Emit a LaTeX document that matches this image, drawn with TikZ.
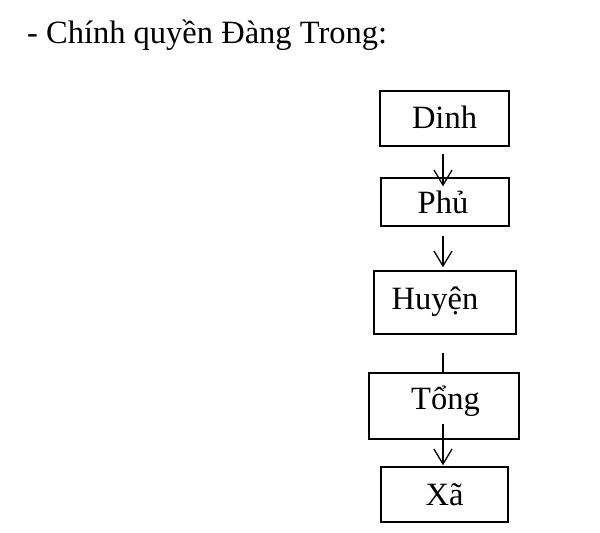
\documentclass[tikz,border=0pt]{standalone}
\usepackage{fontspec}
\setmainfont{Liberation Serif}
\usetikzlibrary{arrows.meta}
\tikzset{
  box/.style={draw, line width=1.4pt, inner sep=0pt},
  lbl/.style={inner sep=0pt, font=\fontsize{32.5}{39}\selectfont, text height=21.5pt, text depth=0pt},
  arr/.style={line width=1.3pt, -{Straight Barb[length=15pt,width=18pt,line width=1.3pt]}},
  plain/.style={line width=1.3pt}
}
\begin{document}
\begin{tikzpicture}[x=1pt,y=-1pt]
\useasboundingbox (0,0) rectangle (600,533);
\node[anchor=base west, inner sep=0pt, font=\fontsize{32.5}{39}\selectfont] (title) at (27,43) {- Chính quyền Đàng Trong:};
\node[box, minimum width=129pt, minimum height=55pt, label={[lbl, yshift=0.5pt]center:Dinh}] (dinh) at (444.5,118.5) {};
\node[box, minimum width=128pt, minimum height=48pt, label={[lbl, xshift=-2pt, yshift=-0.5pt]center:Phủ}] (phu) at (445,202) {};
\node[box, minimum width=142pt, minimum height=63pt, label={[lbl, xshift=-10pt, yshift=3.5pt]center:Huyện}] (huyen) at (445,302.5) {};
\node[box, minimum width=150pt, minimum height=66pt, label={[lbl, xshift=1.5pt, yshift=7pt]center:Tổng}] (tong) at (444,406) {};
\node[box, minimum width=127pt, minimum height=55pt, label={[lbl]center:Xã}] (xa) at (444.5,494.5) {};
\draw[arr] ([xshift=-1.5pt,yshift=-7pt]dinh.south) -- ([xshift=-2pt,yshift=-9pt]phu.north);
\draw[arr] ([xshift=-2pt,yshift=-9pt]phu.south) -- ([xshift=-2pt,yshift=3pt]huyen.north);
\draw[plain] ([xshift=-2pt,yshift=-18pt]huyen.south) -- ([xshift=-1pt]tong.north);
\draw[arr] ([xshift=-1pt,yshift=16pt]tong.south) -- ([xshift=-1.5pt,yshift=1pt]xa.north);
\end{tikzpicture}
\end{document}
